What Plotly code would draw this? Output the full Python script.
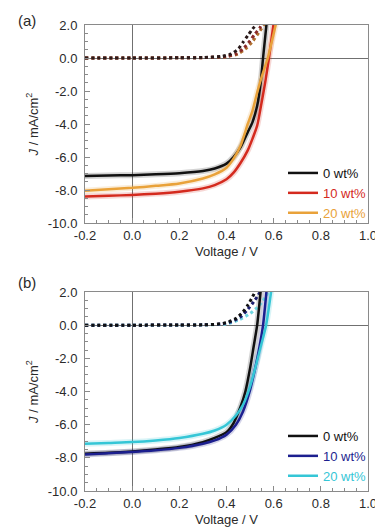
import plotly.graph_objects as go

# ---------------- data: panel (a) ----------------
a_black_v = [-0.2, -0.1, 0.0, 0.1, 0.2, 0.3, 0.35, 0.4, 0.43, 0.46, 0.49, 0.51, 0.53, 0.545, 0.555, 0.57]
a_black_j = [-7.15, -7.12, -7.1, -7.05, -6.98, -6.85, -6.7, -6.4, -6.0, -5.4, -4.5, -3.9, -2.9, -1.5, 0.0, 2.1]

a_red_v = [-0.2, -0.1, 0.0, 0.1, 0.2, 0.3, 0.35, 0.4, 0.43, 0.46, 0.49, 0.51, 0.53, 0.55, 0.565, 0.58, 0.6]
a_red_j = [-8.4, -8.35, -8.3, -8.22, -8.1, -7.9, -7.7, -7.35, -6.95, -6.35, -5.6, -4.9, -4.1, -2.6, -1.4, 0.0, 2.1]

a_orange_v = [-0.2, -0.1, 0.0, 0.1, 0.2, 0.3, 0.35, 0.4, 0.43, 0.46, 0.49, 0.51, 0.53, 0.55, 0.575, 0.61]
a_orange_j = [-8.05, -7.95, -7.87, -7.75, -7.6, -7.3, -7.05, -6.65, -6.1, -5.3, -4.0, -3.2, -2.1, -1.1, 0.0, 2.1]

a_black_dark_v = [-0.2, 0.0, 0.2, 0.3, 0.38, 0.42, 0.45, 0.47, 0.49, 0.51, 0.53]
a_black_dark_j = [0.0, 0.0, 0.01, 0.03, 0.1, 0.25, 0.55, 0.95, 1.35, 1.75, 2.1]
a_red_dark_v = [-0.2, 0.0, 0.2, 0.3, 0.4, 0.44, 0.47, 0.5, 0.52, 0.54, 0.55]
a_red_dark_j = [0.0, 0.0, 0.01, 0.02, 0.1, 0.25, 0.55, 1.05, 1.45, 1.8, 2.05]
a_orange_dark_v = [-0.2, 0.0, 0.2, 0.3, 0.4, 0.45, 0.48, 0.51, 0.54, 0.56]
a_orange_dark_j = [0.0, 0.0, 0.01, 0.02, 0.08, 0.25, 0.55, 1.0, 1.6, 2.05]

# ---------------- data: panel (b) ----------------
b_black_v = [-0.2, -0.1, 0.0, 0.1, 0.2, 0.3, 0.35, 0.4, 0.43, 0.46, 0.48, 0.5, 0.515, 0.53, 0.545]
b_black_j = [-7.75, -7.7, -7.62, -7.5, -7.35, -7.05, -6.8, -6.45, -5.9, -4.9, -4.0, -2.6, -1.3, 0.0, 2.1]

b_navy_v = [-0.2, -0.1, 0.0, 0.1, 0.2, 0.3, 0.35, 0.4, 0.44, 0.47, 0.5, 0.52, 0.54, 0.555, 0.57]
b_navy_j = [-7.8, -7.72, -7.65, -7.55, -7.4, -7.15, -6.95, -6.6, -6.0, -5.2, -3.9, -2.7, -1.3, 0.0, 2.1]

b_cyan_v = [-0.2, -0.1, 0.0, 0.1, 0.2, 0.3, 0.35, 0.4, 0.44, 0.47, 0.5, 0.52, 0.545, 0.568, 0.59]
b_cyan_j = [-7.15, -7.1, -7.05, -6.95, -6.8, -6.55, -6.35, -6.0, -5.45, -4.8, -3.7, -2.7, -1.3, 0.0, 2.1]

b_black_dark_v = [-0.2, 0.0, 0.2, 0.3, 0.36, 0.4, 0.44, 0.47, 0.49, 0.51, 0.525]
b_black_dark_j = [0.0, 0.0, 0.01, 0.02, 0.06, 0.15, 0.4, 0.8, 1.2, 1.7, 2.1]
b_navy_dark_v = [-0.2, 0.0, 0.2, 0.3, 0.38, 0.42, 0.46, 0.49, 0.52, 0.545]
b_navy_dark_j = [0.0, 0.0, 0.01, 0.02, 0.08, 0.2, 0.5, 0.95, 1.5, 2.05]
b_cyan_dark_v = [-0.2, 0.0, 0.2, 0.3, 0.4, 0.45, 0.5, 0.54, 0.57, 0.58]
b_cyan_dark_j = [0.0, 0.0, 0.0, 0.01, 0.08, 0.3, 0.7, 1.2, 1.8, 2.1]

labels = ["0 wt%", "10 wt%", "20 wt%"]
x_ticks = [-0.2, 0.0, 0.2, 0.4, 0.6, 0.8, 1.0]
y_ticks = [2.0, 0.0, -2.0, -4.0, -6.0, -8.0, -10.0]

col_a = ["#111111", "#d42a1e", "#e9a23a"]
col_b = ["#111111", "#1c1f8f", "#35c6d6"]
dark_a = ["#2a1a1a", "#8a2a28", "#b07030"]
dark_b = ["#111111", "#1c1f70", "#6fd6e0"]

FONT = "Liberation Sans, Arial, sans-serif"

fig = go.Figure()


def add_panel(light, dark, cols, dcols, xa, ya, legend):
    for (v, j), c in zip(light, cols):
        fig.add_trace(go.Scatter(x=v, y=j, mode="lines", line=dict(color=c, width=6, shape="spline", smoothing=0.6),
                                 opacity=0.18, showlegend=False, hoverinfo="skip", xaxis=xa, yaxis=ya))
    for (v, j), c in zip(dark, dcols):
        fig.add_trace(go.Scatter(x=v, y=j, mode="lines",
                                 line=dict(color=c, width=3, dash="dot", shape="spline", smoothing=0.6),
                                 showlegend=False, hoverinfo="skip", xaxis=xa, yaxis=ya))
    for (v, j), c, lab in zip(light, cols, labels):
        fig.add_trace(go.Scatter(x=v, y=j, mode="lines", line=dict(color=c, width=2.5, shape="spline", smoothing=0.6),
                                 name=f"<span style='color:{c}'>{lab}</span>", legend=legend,
                                 xaxis=xa, yaxis=ya))


add_panel([(a_black_v, a_black_j), (a_red_v, a_red_j), (a_orange_v, a_orange_j)],
          [(a_orange_dark_v, a_orange_dark_j), (a_red_dark_v, a_red_dark_j), (a_black_dark_v, a_black_dark_j)],
          col_a, [dark_a[2], dark_a[1], dark_a[0]], "x", "y", "legend")
add_panel([(b_black_v, b_black_j), (b_navy_v, b_navy_j), (b_cyan_v, b_cyan_j)],
          [(b_cyan_dark_v, b_cyan_dark_j), (b_navy_dark_v, b_navy_dark_j), (b_black_dark_v, b_black_dark_j)],
          col_b, [dark_b[2], dark_b[1], dark_b[0]], "x2", "y2", "legend2")

W, H = 375, 527
xdom = [85 / W, 368 / W]
ydom_a = [1 - 223 / H, 1 - 25 / H]
ydom_b = [1 - 491 / H, 1 - 292 / H]

axis_common = dict(showline=True, mirror=True, linecolor="#8a8a8a", linewidth=1,
                   ticks="inside", tickcolor="#8a8a8a", ticklen=5, showgrid=False,
                   zeroline=True, zerolinecolor="#707070", zerolinewidth=1, automargin=False,
                   ticklabeloverflow="allow",
                   tickfont=dict(family=FONT, size=13, color="#2a2a2a"))

xcommon = dict(axis_common, range=[-0.2, 1.0], tickvals=x_ticks,
               ticktext=[f"{t:.1f}" for t in x_ticks],
               minor=dict(dtick=0.05, ticks="inside", ticklen=3, tickcolor="#8a8a8a"),
               title=dict(text="Voltage / V", font=dict(family=FONT, size=13, color="#2a2a2a"), standoff=5))
ycommon = dict(axis_common, range=[-10.0, 2.0], tickvals=y_ticks,
               ticktext=[f"{t:.1f}" for t in y_ticks],
               minor=dict(dtick=0.5, ticks="inside", ticklen=3, tickcolor="#8a8a8a"),
               ticklabelstandoff=4,
               title=dict(text="<i>J</i> / mA/cm<sup>2</sup>", font=dict(family=FONT, size=13, color="#2a2a2a"),
                          standoff=6))

legend_common = dict(bgcolor="rgba(0,0,0,0)", font=dict(family=FONT, size=13), itemwidth=30,
                     tracegroupgap=0, xanchor="left", yanchor="top", x=283 / W)

fig.update_layout(
    width=W, height=H, margin=dict(l=0, r=0, t=0, b=0, autoexpand=False),
    paper_bgcolor="white", plot_bgcolor="white",
    xaxis=dict(xcommon, domain=xdom, anchor="y"),
    yaxis=dict(ycommon, domain=ydom_a, anchor="x"),
    xaxis2=dict(xcommon, domain=xdom, anchor="y2"),
    yaxis2=dict(ycommon, domain=ydom_b, anchor="x2"),
    legend=dict(legend_common, y=1 - 158 / H),
    legend2=dict(legend_common, y=1 - 421 / H),
    annotations=[
        dict(text="(a)", x=27 / W, y=1 - 20 / H, xref="paper", yref="paper", showarrow=False,
             xanchor="center", yanchor="middle",
             font=dict(family=FONT, size=15, color="#2a2a2a")),
        dict(text="(b)", x=27 / W, y=1 - 282 / H, xref="paper", yref="paper", showarrow=False,
             xanchor="center", yanchor="middle",
             font=dict(family=FONT, size=15, color="#2a2a2a")),
    ],
)

fig.write_html("out.html", config={"displayModeBar": False},
               post_script="document.body.style.margin='0';")
